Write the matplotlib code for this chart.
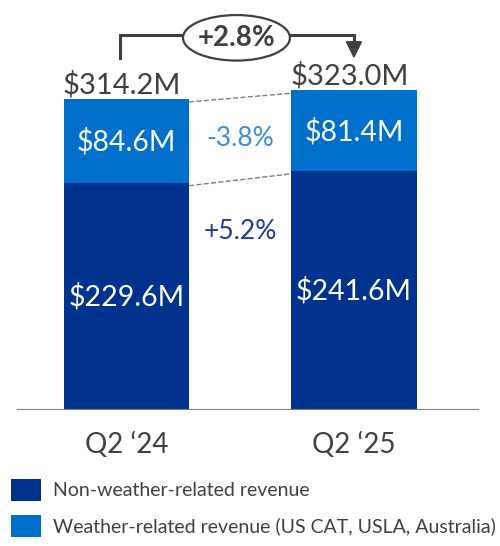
import matplotlib
matplotlib.use('Agg')
import matplotlib.pyplot as plt
from matplotlib.patches import Ellipse, Rectangle, Polygon

plt.rcParams['font.family'] = ['Lato', 'DejaVu Sans']

# data
quarters = ["Q2 \u201824", "Q2 \u201825"]
non_weather = [229.6, 241.6]
weather = [84.6, 81.4]
totals = [314.2, 323.0]
non_weather_chg = "+5.2%"
weather_chg = "-3.8%"
total_chg = "+2.8%"

DARK = '#00338D'
LIGHT = '#0070CC'
GREY = '#404040'

fig = plt.figure(figsize=(5.0, 5.46), dpi=100)
ax = fig.add_axes([0, 136 / 546, 1, 410 / 546])
ax.set_xlim(-0.556, 1.642)
ax.set_ylim(0, 414.2)
ax.axis('off')

x = [0, 1]
w = 0.55
ax.bar(x, non_weather, width=w, color=DARK, zorder=2)
ax.bar(x, weather, width=w, bottom=non_weather, color=LIGHT, zorder=2)
ax.axhline(0, xmin=0.036, xmax=0.956, color='#808080', lw=1.5, zorder=3)

for i in range(2):
    ax.text(x[i], non_weather[i] / 2, f'${non_weather[i]:.1f}M', color='white',
            fontsize=20.5, ha='center', va='center')
    ax.text(x[i], non_weather[i] + weather[i] / 2 - 1, f'${weather[i]:.1f}M', color='white',
            fontsize=20.5, ha='center', va='center')
    ax.text(x[i] - 0.02, totals[i] + 6, f'${totals[i]:.1f}M', color=GREY,
            fontsize=21, ha='center', va='baseline')
    ax.text(x[i], -22, quarters[i], color=GREY, fontsize=20, ha='center', va='top')

# dashed connectors
ax.plot([w / 2, 1 - w / 2], [totals[0] - 3, totals[1] - 3], ls='--', color='#808080', lw=1, zorder=1)
ax.plot([w / 2, 1 - w / 2], [non_weather[0] - 3, non_weather[1] - 3], ls='--', color='#808080', lw=1, zorder=1)

ax.text(0.5, (totals[0] + non_weather[0]) / 2 + 2, weather_chg, color='#3A8EDB',
        fontsize=19, ha='center', va='center')
ax.text(0.5, 180, non_weather_chg, color='#1F3A93', fontsize=19, ha='center', va='center')

# bracket arrow with growth label
yb = 378.8
ax.plot([-0.0286, -0.0286, 0.27], [355.6, yb, yb], color=GREY, lw=2.2, solid_joinstyle='miter')
ax.plot([0.7, 1.0, 1.0], [yb, yb, 370], color=GREY, lw=2.2, solid_joinstyle='miter')
ax.add_patch(Polygon([[1.0 - 0.033, 372], [1.0 + 0.033, 372], [1.0, 356.6]],
                     closed=True, facecolor=GREY, edgecolor=GREY, lw=1))
ax.add_patch(Ellipse((0.4835, 376), 0.47, 46, facecolor='white', edgecolor=GREY, lw=1.6, zorder=4))
ax.text(0.4835, 376, total_chg, color=GREY, fontsize=20, fontweight='bold',
        ha='center', va='center', zorder=5)

# legend
legend_items = [('Non-weather-related revenue', DARK),
                ('Weather-related revenue (US CAT, USLA, Australia)', LIGHT)]
for j, (lab, col) in enumerate(legend_items):
    ytop = 479 + j * 36
    fig.patches.append(Rectangle((11 / 500, 1 - (ytop + 22) / 546), 30 / 500, 22 / 546,
                                 transform=fig.transFigure, facecolor=col, edgecolor='none'))
    fig.text(53 / 500, 1 - (ytop + 11) / 546, lab, color=GREY, fontsize=14,
             ha='left', va='center')

fig.savefig('out.png', dpi=100)
